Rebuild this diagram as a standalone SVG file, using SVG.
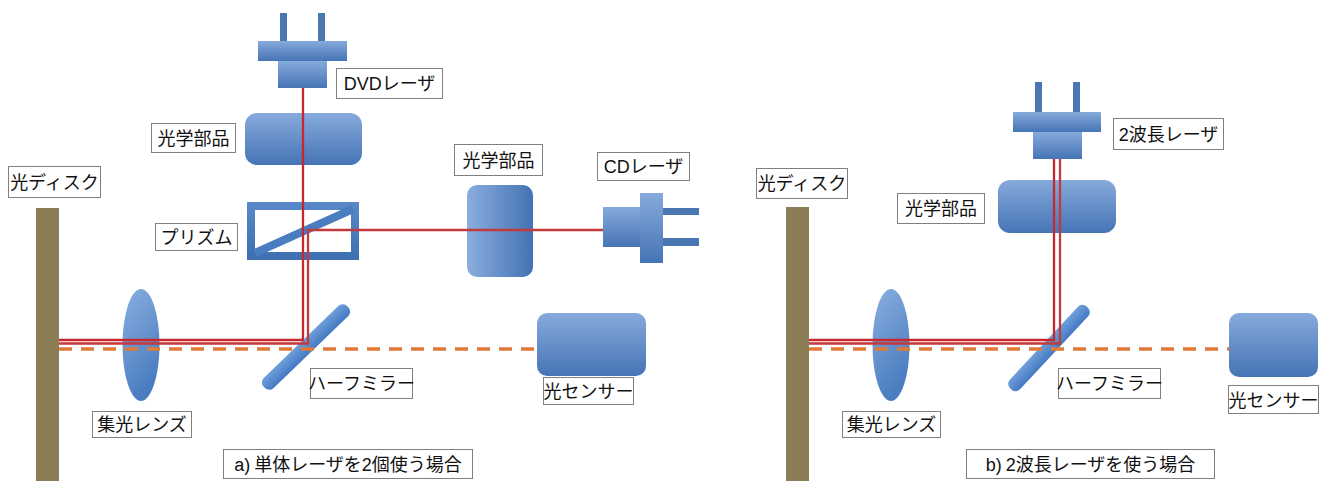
<svg xmlns="http://www.w3.org/2000/svg" width="1340" height="481" viewBox="0 0 1340 481">
  <defs>
    <linearGradient id="gV" x1="0" y1="0" x2="0" y2="1">
      <stop offset="0" stop-color="#86aadb"/>
      <stop offset="1" stop-color="#4674b6"/>
    </linearGradient>
    <linearGradient id="gH" x1="0" y1="0" x2="1" y2="0">
      <stop offset="0" stop-color="#8aaedd"/>
      <stop offset="1" stop-color="#4472b4"/>
    </linearGradient>
    <linearGradient id="gLens" x1="0" y1="0" x2="0.4" y2="1">
      <stop offset="0" stop-color="#8ab0e0"/>
      <stop offset="1" stop-color="#4a7cc0"/>
    </linearGradient>
    <linearGradient id="gMirror" x1="0" y1="0" x2="0" y2="1">
      <stop offset="0" stop-color="#6f9fdb"/>
      <stop offset="1" stop-color="#4479c2"/>
    </linearGradient>
    <linearGradient id="gPrism" x1="0" y1="0" x2="0" y2="1">
      <stop offset="0" stop-color="#5787c6"/>
      <stop offset="1" stop-color="#3f70b2"/>
    </linearGradient>
    <style>
      .lbl rect { fill: #ffffff; stroke: #7f7f7f; stroke-width: 1; }
      .lbl text { font-family: "Liberation Sans", "Noto Sans CJK JP", sans-serif; font-size: 18px; fill: #111111; text-anchor: middle; }
      .disc { fill: #8b7e57; }
      .part { fill: url(#gV); }
      .partH { fill: url(#gH); }
      .pin { fill: #4a76b2; }
      .lens { fill: url(#gLens); }
      .mirror { fill: url(#gMirror); }
      .beam { fill: none; stroke: #c8282c; stroke-width: 2.3; }
      .beam2 { fill: none; stroke: #c23a3c; stroke-width: 2.3; }
      .ret { fill: none; stroke: #e07a38; stroke-width: 3.5; stroke-dasharray: 13 9; }
    </style>
  </defs>

  <rect width="1340" height="481" fill="#ffffff"/>

  <!-- ===== a) two separate lasers ===== -->
  <g id="disc-a">
    <rect class="disc" x="36" y="208" width="23" height="273"/>
    <g class="lbl"><rect x="8.5" y="166.5" width="92" height="31"/><text x="54.5" y="188.5">光ディスク</text></g>
  </g>

  <g id="dvd-laser">
    <rect class="pin" x="280" y="13" width="7" height="30"/>
    <rect class="pin" x="318" y="13" width="7" height="30"/>
    <rect class="part" x="258" y="41" width="89" height="20"/>
    <rect class="part" x="278" y="61" width="49" height="27"/>
    <g class="lbl"><rect x="336.5" y="68.5" width="106" height="30"/><text x="389.5" y="90">DVDレーザ</text></g>
  </g>

  <g id="optics-dvd">
    <rect class="part" x="245" y="113" width="117" height="52" rx="12"/>
    <g class="lbl"><rect x="151.5" y="123.5" width="84" height="29"/><text x="193.5" y="144.5">光学部品</text></g>
  </g>

  <g id="prism">
    <rect x="251" y="206" width="104" height="50" fill="none" stroke="url(#gPrism)" stroke-width="8"/>
    <line x1="255" y1="253" x2="353" y2="209" stroke="#4a7cc0" stroke-width="8"/>
    <g class="lbl"><rect x="155.5" y="223.5" width="82" height="27"/><text x="196.5" y="243.5">プリズム</text></g>
  </g>

  <g id="optics-cd">
    <rect class="partH" x="467" y="185" width="66" height="92" rx="10"/>
    <g class="lbl"><rect x="454.5" y="144.5" width="88" height="31"/><text x="498.5" y="166.5">光学部品</text></g>
  </g>

  <g id="cd-laser">
    <rect class="part" x="603" y="207" width="37" height="40"/>
    <rect class="part" x="640" y="193" width="23" height="70"/>
    <rect class="pin" x="663" y="208" width="36" height="7"/>
    <rect class="pin" x="663" y="238" width="36" height="8"/>
    <g class="lbl"><rect x="597.5" y="152.5" width="92" height="28"/><text x="643.5" y="173">CDレーザ</text></g>
  </g>

  <g id="lens-a">
    <ellipse class="lens" cx="141" cy="345" rx="18.5" ry="56"/>
    <g class="lbl"><rect x="92.5" y="411.5" width="99" height="26"/><text x="142" y="431">集光レンズ</text></g>
  </g>

  <g id="mirror-a">
    <rect class="mirror" x="248" y="340" width="116" height="14" rx="6" transform="rotate(-44 306 347)"/>
    <g class="lbl"><rect x="310.5" y="368.5" width="102" height="30"/><text x="361.5" y="390">ハーフミラー</text></g>
  </g>

  <g id="sensor-a">
    <rect class="part" x="537" y="313" width="109" height="63" rx="10"/>
    <g class="lbl"><rect x="543.5" y="377.5" width="90" height="27"/><text x="588.5" y="398">光センサー</text></g>
  </g>

  <g id="caption-a" class="lbl">
    <rect x="223.5" y="449.5" width="249" height="29"/><text x="348" y="470.5">a)<tspan dx="4">単体レーザを2個使う場合</tspan></text>
  </g>

  <!-- ===== b) dual-wavelength laser ===== -->
  <g id="disc-b">
    <rect class="disc" x="786" y="207" width="23" height="274"/>
    <g class="lbl"><rect x="756.5" y="168.5" width="91" height="30"/><text x="802" y="190">光ディスク</text></g>
  </g>

  <g id="dual-laser">
    <rect class="pin" x="1035" y="82" width="7" height="30"/>
    <rect class="pin" x="1073" y="82" width="7" height="30"/>
    <rect class="part" x="1013" y="112" width="88" height="20"/>
    <rect class="part" x="1033" y="132" width="49" height="27"/>
    <g class="lbl"><rect x="1113.5" y="118.5" width="110" height="31"/><text x="1168.5" y="140.5">2波長レーザ</text></g>
  </g>

  <g id="optics-b">
    <rect class="part" x="998" y="180" width="118" height="53" rx="12"/>
    <g class="lbl"><rect x="897.5" y="193.5" width="87" height="30"/><text x="941" y="215">光学部品</text></g>
  </g>

  <g id="lens-b">
    <ellipse class="lens" cx="891" cy="345" rx="18.5" ry="56"/>
    <g class="lbl"><rect x="842.5" y="411.5" width="98" height="26"/><text x="891.5" y="431">集光レンズ</text></g>
  </g>

  <g id="mirror-b">
    <rect class="mirror" x="993" y="341" width="112" height="14" rx="6" transform="rotate(-47 1049 348)"/>
    <g class="lbl"><rect x="1058.5" y="368.5" width="102" height="30"/><text x="1109.5" y="390">ハーフミラー</text></g>
  </g>

  <g id="sensor-b">
    <rect class="part" x="1229" y="313" width="89" height="64" rx="10"/>
    <g class="lbl"><rect x="1228.5" y="385.5" width="90" height="28"/><text x="1273.5" y="406.5">光センサー</text></g>
  </g>

  <g id="caption-b" class="lbl">
    <rect x="966.5" y="449.5" width="248" height="29"/><text x="1090.5" y="470.5">b)<tspan dx="4">2波長レーザを使う場合</tspan></text>
  </g>

  <!-- ===== light paths ===== -->
  <g id="connectors">
    <!-- a) DVD beam and CD beam folded by the prism -->
    <polyline class="beam" points="303,88 303,340 59,340"/>
    <polyline class="beam2" points="603,230 308,230 308,343.5 59,343.5"/>
    <line class="ret" x1="59" y1="349" x2="537" y2="349"/>
    <!-- b) both wavelengths from one package -->
    <polyline class="beam" points="1054,159 1054,340 809,340"/>
    <polyline class="beam2" points="1060,159 1060,343.5 809,343.5"/>
    <line class="ret" x1="809" y1="349" x2="1229" y2="349"/>
  </g>
</svg>
